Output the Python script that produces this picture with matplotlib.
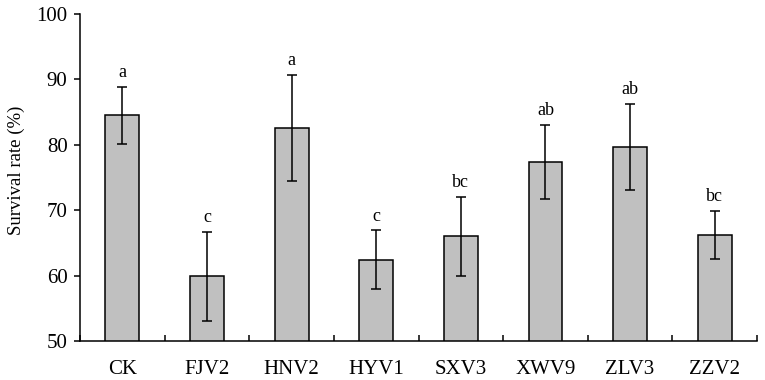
import numpy as np
import matplotlib.pyplot as plt
from matplotlib.ticker import FixedLocator

plt.rcParams['font.family'] = ['Liberation Serif', 'DejaVu Serif']

# Survival rate of each treatment
strains = ['CK', 'FJV2', 'HNV2', 'HYV1', 'SXV3', 'XWV9', 'ZLV3', 'ZZV2']
survival = [84.5, 59.9, 82.6, 62.4, 66.0, 77.4, 79.7, 66.2]
err = [4.35, 6.8, 8.1, 4.5, 6.05, 5.7, 6.55, 3.7]
letters = ['a', 'c', 'a', 'c', 'bc', 'ab', 'ab', 'bc']

fig = plt.figure(figsize=(7.65, 3.8), dpi=100)
ax = fig.add_axes([0.1046, 0.1026, 0.885, 0.8605])

x = np.arange(len(strains))
ax.bar(x, survival, width=0.4, color='#C0C0C0', edgecolor='black', linewidth=1.1,
       yerr=err, capsize=3.5, error_kw={'elinewidth': 1.1, 'capthick': 1.1, 'ecolor': 'black'},
       zorder=2)

for xi, v, e, lab in zip(x, survival, err, letters):
    ax.annotate(lab, (xi, v + e), xytext=(0, 4), textcoords='offset points',
                ha='center', va='bottom', fontsize=13)

ax.set_xlim(-0.5, len(strains) - 0.5)
ax.set_ylim(50, 100)
ax.set_yticks([50, 60, 70, 80, 90, 100])
ax.set_xticks(x)
ax.set_xticklabels(strains)
ax.xaxis.set_minor_locator(FixedLocator(np.arange(-0.5, len(strains), 1.0)))
ax.tick_params(axis='x', which='major', length=0, pad=14, labelsize=15)
ax.tick_params(axis='x', which='minor', direction='in', length=4, width=1.1)
ax.tick_params(axis='y', direction='out', length=4, width=1.1, pad=5, labelsize=15)
ax.set_ylabel('Survival rate (%)', fontsize=13.5)
ax.yaxis.set_label_coords(-0.082, 0.523)

for s in ['top', 'right']:
    ax.spines[s].set_visible(False)
for s in ['left', 'bottom']:
    ax.spines[s].set_linewidth(1.1)

fig.savefig('out.png', dpi=100)
